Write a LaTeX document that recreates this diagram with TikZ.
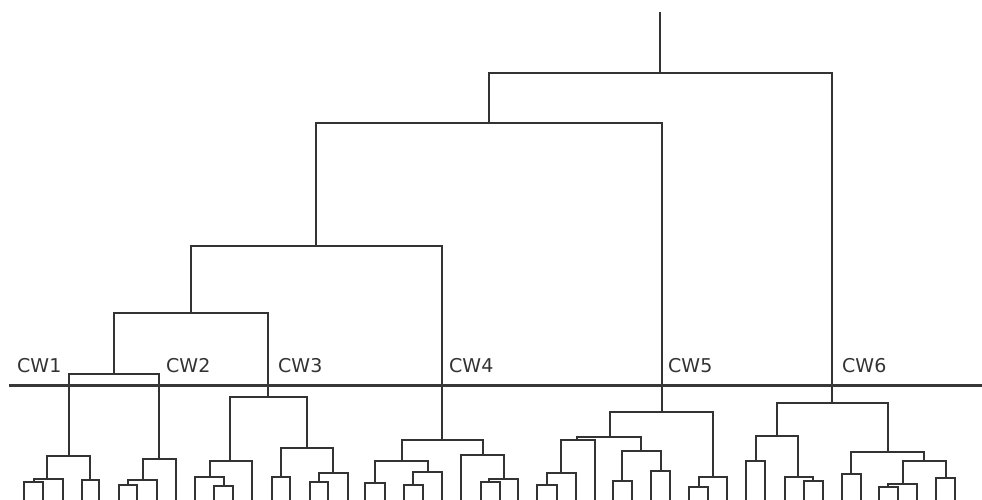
\documentclass[tikz,border=0pt]{standalone}
\usepackage{fontspec}
\setmainfont{DejaVu Sans}
\tikzset{
  den/.style={line width=1.4pt, draw=black!80, line join=miter},
  sepline/.style={line width=2.8pt, draw=black!78},
  lab/.style={anchor=base west, inner sep=0pt, text=black!80, font=\fontsize{19}{22}\selectfont}
}
\newcommand\lf[2]{\coordinate (#1) at (#2,500);}
\newcommand\mg[5]{\coordinate (#1) at (#4,#5); \draw[den] (#2) |- (#1) -| (#3);}
\begin{document}
\begin{tikzpicture}[x=1pt,y=-1pt]
\useasboundingbox (0,0) rectangle (982,499);
% leaves
\lf{L1}{24}\lf{L2}{43}\lf{L3}{63}\lf{L4}{82}\lf{L5}{99}
\lf{L6}{119}\lf{L7}{137}\lf{L8}{157}\lf{L9}{176}
\lf{L10}{195}\lf{L11}{214}\lf{L12}{233}\lf{L13}{252}\lf{L14}{272}\lf{L15}{290}\lf{L16}{310}\lf{L17}{328}\lf{L18}{348}
\lf{L19}{365}\lf{L20}{385}\lf{L21}{404}\lf{L22}{423}\lf{L23}{442}\lf{L24}{461}\lf{L25}{481}\lf{L26}{500}\lf{L27}{518}
\lf{L28}{537}\lf{L29}{557}\lf{L30}{576}\lf{L31}{595}\lf{L32}{613}\lf{L33}{632}\lf{L34}{651}\lf{L35}{670}\lf{L36}{689}\lf{L37}{708}\lf{L38}{727}
\lf{L39}{746}\lf{L40}{765}\lf{L41}{785}\lf{L42}{804}\lf{L43}{823}\lf{L44}{842}\lf{L45}{861}\lf{L46}{879}\lf{L47}{898}\lf{L48}{917}\lf{L49}{936}\lf{L50}{955}
% CW1
\mg{a1}{L1}{L2}{34}{482}
\mg{a2}{a1}{L3}{47}{479}
\mg{a3}{L4}{L5}{90}{480}
\mg{a4}{a2}{a3}{69}{456}
% CW2
\mg{b1}{L6}{L7}{128}{485}
\mg{b2}{b1}{L8}{143}{480}
\mg{b3}{b2}{L9}{159}{459}
\mg{ab}{a4}{b3}{114}{374}
% CW3
\mg{c1}{L11}{L12}{224}{486}
\mg{c2}{L10}{c1}{210}{477}
\mg{c3}{c2}{L13}{230}{461}
\mg{c4}{L14}{L15}{281}{477}
\mg{c5}{L16}{L17}{319}{482}
\mg{c6}{c5}{L18}{333}{473}
\mg{c7}{c4}{c6}{307}{448}
\mg{c8}{c3}{c7}{268}{397}
\mg{abc}{ab}{c8}{191}{313}
% CW4
\mg{d1}{L19}{L20}{375}{483}
\mg{d2}{L21}{L22}{413}{485}
\mg{d3}{d2}{L23}{428}{472}
\mg{d4}{d1}{d3}{402}{461}
\mg{d5}{L25}{L26}{489}{482}
\mg{d6}{d5}{L27}{504}{479}
\mg{d7}{L24}{d6}{483}{455}
\mg{d8}{d4}{d7}{442}{440}
\mg{abcd}{abc}{d8}{316}{246}
% CW5
\mg{e1}{L28}{L29}{547}{485}
\mg{e2}{e1}{L30}{561}{473}
\mg{e3}{e2}{L31}{577}{440}
\mg{e4}{L32}{L33}{622}{481}
\mg{e5}{L34}{L35}{661}{471}
\mg{e6}{e4}{e5}{641}{451}
\mg{e7}{e3}{e6}{610}{437}
\mg{e8}{L36}{L37}{699}{487}
\mg{e9}{e8}{L38}{713}{477}
\mg{e10}{e7}{e9}{662}{412}
\mg{abcde}{abcd}{e10}{489}{123}
% CW6
\mg{f1}{L39}{L40}{756}{461}
\mg{f2}{L42}{L43}{813}{481}
\mg{f3}{L41}{f2}{798}{477}
\mg{f4}{f1}{f3}{777}{436}
\mg{f5}{L44}{L45}{851}{474}
\mg{f6}{L46}{L47}{888}{487}
\mg{f7}{f6}{L48}{903}{484}
\mg{f8}{L49}{L50}{946}{478}
\mg{f9}{f7}{f8}{924}{461}
\mg{f10}{f5}{f9}{888}{452}
\mg{f11}{f4}{f10}{832}{403}
\mg{root}{abcde}{f11}{660}{73}
\coordinate (top) at (660,12);
\draw[den] (top) -- (root);
% cut line
\coordinate (hl) at (9,385.5);
\coordinate (hr) at (982,385.5);
\draw[sepline] (hl) -- (hr);
% labels
\node[lab] (cw1) at (17,372) {CW1};
\node[lab] (cw2) at (166,372) {CW2};
\node[lab] (cw3) at (278,372) {CW3};
\node[lab] (cw4) at (449,372) {CW4};
\node[lab] (cw5) at (668,372) {CW5};
\node[lab] (cw6) at (842,372) {CW6};
\end{tikzpicture}
\end{document}
